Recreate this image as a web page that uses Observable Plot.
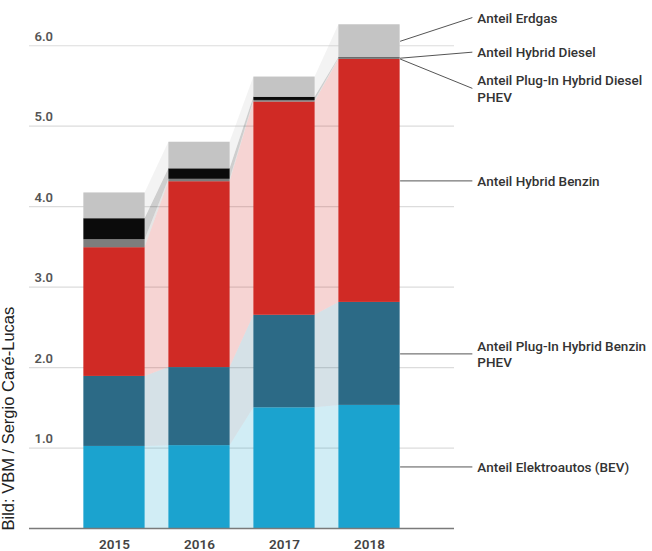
<!DOCTYPE html>
<html>
<head>
<meta charset="utf-8">
<script src="https://cdn.jsdelivr.net/npm/d3@7"></script>
<script src="https://cdn.jsdelivr.net/npm/@observablehq/plot@0.6"></script>
<style>
  html, body { margin: 0; padding: 0; background: #fff; }
  #chart svg { display: block; }
</style>
</head>
<body>
<div id="chart"></div>
<script>
// Shares of alternative drive types, 2015–2018 (stacked, bottom to top)
const years = [2015, 2016, 2017, 2018];
const series = [
  "Anteil Elektroautos (BEV)",
  "Anteil Plug-In Hybrid Benzin\nPHEV",
  "Anteil Hybrid Benzin",
  "Anteil Plug-In Hybrid Diesel\nPHEV",
  "Anteil Hybrid Diesel",
  "Anteil Erdgas"
];
const bev          = [1.02, 1.03, 1.50, 1.53];
const phevBenzin   = [0.87, 0.97, 1.15, 1.28];
const hybridBenzin = [1.60, 2.31, 2.65, 3.02];
const phevDiesel   = [0.10, 0.03, 0.02, 0.01];
const hybridDiesel = [0.26, 0.13, 0.04, 0.01];
const erdgas       = [0.32, 0.33, 0.25, 0.41];
const yTicks = [1, 2, 3, 4, 5, 6];
const credit = "Bild: VBM / Sergio Caré-Lucas";

const colors = ["#1ba3cf", "#2c6a86", "#d02a25", "#7d7d7d", "#0b0b0b", "#c4c4c4"];

// Layout: bar half-width in years, callout column position, upper callout heights
const half = 0.36;
const calloutX = 2019.21;
const calloutY = {
  "Anteil Plug-In Hybrid Diesel\nPHEV": 5.47,
  "Anteil Hybrid Diesel": 5.92,
  "Anteil Erdgas": 6.35
};

const values = [bev, phevBenzin, hybridBenzin, phevDiesel, hybridDiesel, erdgas];

const rows = years.flatMap((year, i) =>
  series.map((s, j) => ({year, series: s, value: values[j][i]}))
);

// Points at both edges of every bar, for the pale connecting bands
const edges = years.flatMap((year, i) =>
  [-half, half].flatMap(off =>
    series.map((s, j) => ({x: year + off, series: s, value: values[j][i]}))
  )
);

// Callouts point at the middle of each segment of the last bar
const last = years.length - 1;
let acc = 0;
const callouts = series.map((s, j) => {
  const v = values[j][last];
  const mid = acc + v / 2;
  acc += v;
  return {series: s, mid, ly: calloutY[s] ?? mid};
});

const chart = Plot.plot({
  width: 652,
  height: 551,
  marginLeft: 29,
  marginRight: 198,
  marginTop: 5,
  marginBottom: 23,
  style: {fontFamily: "Roboto, sans-serif", background: "#fff"},
  x: {domain: [2014, 2019], axis: null},
  y: {domain: [0, 6.5], axis: null},
  color: {domain: series, range: colors},
  marks: [
    Plot.ruleY(yTicks, {stroke: "#dcdcdc", strokeWidth: 1.2}),
    Plot.areaY(edges, {x: "x", y: "value", z: "series", fill: "series", fillOpacity: 0.2}),
    Plot.rectY(rows, {
      x: "year",
      x1: d => d.year - half,
      x2: d => d.year + half,
      y: "value",
      fill: "series"
    }),
    Plot.ruleY([0], {stroke: "#7a7a7a", strokeWidth: 1.5}),
    Plot.text(yTicks, {
      y: d => d,
      text: d => d.toFixed(1),
      frameAnchor: "left",
      textAnchor: "start",
      dx: 5,
      dy: -9,
      fontSize: 13,
      fontWeight: 600,
      fill: "#555"
    }),
    Plot.text(years, {
      x: d => d,
      text: d => String(d),
      frameAnchor: "bottom",
      dy: 20,
      fontSize: 13.5,
      fontWeight: 600,
      fill: "#444"
    }),
    Plot.link(callouts, {
      x1: years[last] + half,
      y1: "mid",
      x2: calloutX,
      y2: "ly",
      stroke: "#555",
      strokeWidth: 1
    }),
    Plot.text(callouts, {
      x: calloutX,
      y: "ly",
      text: "series",
      textAnchor: "start",
      lineAnchor: "middle",
      lineHeight: 1.2,
      dx: 5,
      fontSize: 13.5,
      fontWeight: 500,
      fill: "#333"
    }),
    Plot.text([credit], {
      text: d => d,
      frameAnchor: "bottom-left",
      rotate: -90,
      textAnchor: "start",
      dx: -16,
      dy: 2,
      fontSize: 16.5,
      fontFamily: "Liberation Sans, Arial, sans-serif",
      fill: "#222"
    })
  ]
});

document.getElementById("chart").append(chart);
</script>
</body>
</html>
